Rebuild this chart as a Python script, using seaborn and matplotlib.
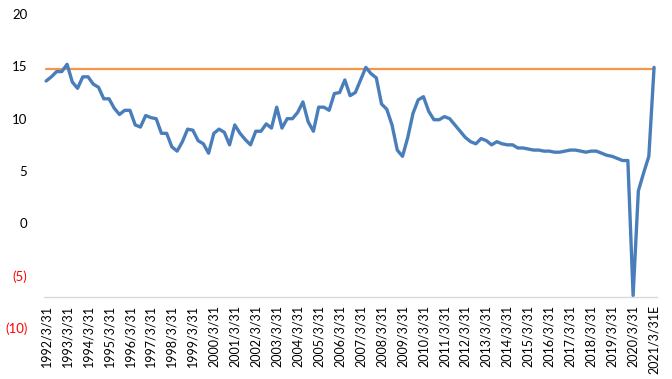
import numpy as np
import pandas as pd
import matplotlib
matplotlib.use("Agg")
import matplotlib.pyplot as plt
import seaborn as sns

years = list(range(1992, 2022))
values = [
    13.6, 14.0, 14.5, 14.5,   # 1992
    15.2, 13.5, 12.9, 14.0,   # 1993
    14.0, 13.3, 13.0, 11.9,   # 1994
    11.9, 11.0, 10.4, 10.8,   # 1995
    10.8, 9.4, 9.2, 10.3,     # 1996
    10.1, 10.0, 8.6, 8.6,     # 1997
    7.3, 6.9, 7.8, 9.0,       # 1998
    8.9, 7.9, 7.6, 6.7,       # 1999
    8.6, 9.0, 8.7, 7.5,       # 2000
    9.4, 8.6, 8.0, 7.5,       # 2001
    8.8, 8.8, 9.5, 9.1,       # 2002
    11.1, 9.1, 10.0, 10.0,    # 2003
    10.6, 11.6, 9.7, 8.8,     # 2004
    11.1, 11.1, 10.8, 12.4,   # 2005
    12.5, 13.7, 12.2, 12.5,   # 2006
    13.7, 14.9, 14.3, 13.9,   # 2007
    11.4, 10.9, 9.4, 7.0,     # 2008
    6.4, 8.2, 10.5, 11.8,     # 2009
    12.1, 10.7, 9.9, 9.9,     # 2010
    10.2, 10.0, 9.4, 8.8,     # 2011
    8.2, 7.8, 7.6, 8.1,       # 2012
    7.9, 7.5, 7.8, 7.6,       # 2013
    7.5, 7.5, 7.2, 7.2,       # 2014
    7.1, 7.0, 7.0, 6.9,       # 2015
    6.9, 6.8, 6.8, 6.9,       # 2016
    7.0, 7.0, 6.9, 6.8,       # 2017
    6.9, 6.9, 6.7, 6.5,       # 2018
    6.4, 6.2, 6.0, 6.0,       # 2019
    -6.9, 3.1, 4.8, 6.4,      # 2020
    14.9,                     # 2021E
]
reference_level = 14.7
axis_cross = -7.0
tick_labels = [f"{y}/3/31" for y in years[:-1]] + ["2021/3/31E"]
ytick_values = [-10, -5, 0, 5, 10, 15, 20]
ytick_labels = ["(10)", "(5)", "0", "5", "10", "15", "20"]

n = len(values)
df = pd.DataFrame({"idx": np.arange(n), "value": values,
                   "ref": [reference_level] * n})

sns.set_theme(style="white")
plt.rcParams["font.family"] = ["Lato", "DejaVu Sans"]

fig = plt.figure(figsize=(6.72, 3.79), dpi=100)
ax = fig.add_axes([0.0655, 0.1346, 0.9125, 0.8284])

sns.lineplot(data=df, x="idx", y="ref", ax=ax, color="#F79646", linewidth=1.6)
sns.lineplot(data=df, x="idx", y="value", ax=ax, color="#4A7EBB", linewidth=2.4)

ax.set_xlim(-0.4, n - 1 + 0.6)
ax.set_ylim(-10, 20)
ax.set_xlabel("")
ax.set_ylabel("")

for s in ["top", "right", "left"]:
    ax.spines[s].set_visible(False)
ax.spines["bottom"].set_position(("data", axis_cross))
ax.spines["bottom"].set_color("#D9D9D9")
ax.spines["bottom"].set_linewidth(1.0)

xt = list(range(0, n, 4))
ax.set_xticks(xt)
ax.set_xticklabels(tick_labels, rotation=90, fontsize=9, color="#000000")
ax.set_yticks(ytick_values)
ax.set_yticklabels(ytick_labels, fontsize=9.5)
for lbl, v in zip(ax.get_yticklabels(), ytick_values):
    lbl.set_color("#FF0000" if v < 0 else "#000000")

ax.tick_params(axis="both", length=0)
ax.tick_params(axis="y", pad=12)
ax.tick_params(axis="x", pad=6, labelrotation=90)

fig.savefig("out.png", dpi=100)
